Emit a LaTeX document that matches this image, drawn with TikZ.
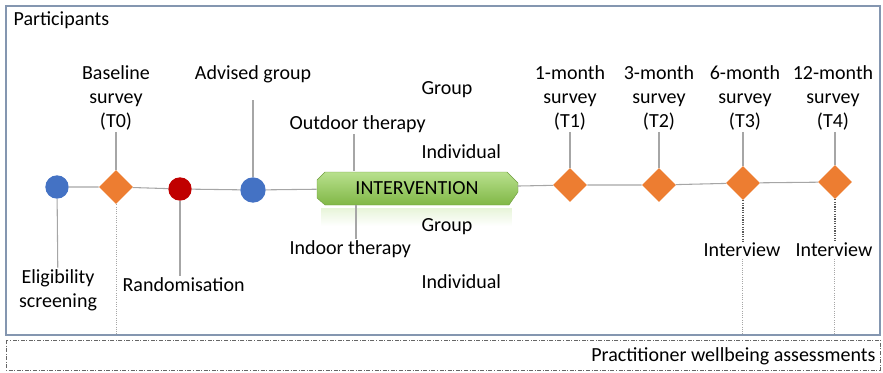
\documentclass[tikz,border=0pt]{standalone}
\usepackage{fontspec}
\setmainfont{Carlito}
\usetikzlibrary{shapes.geometric,fadings}

\definecolor{survorange}{HTML}{ED7D31}
\definecolor{dotblue}{HTML}{4472C4}
\definecolor{dotred}{HTML}{C00000}
\definecolor{linegray}{HTML}{A6A6A6}
\definecolor{framegray}{HTML}{8496B0}
\definecolor{intgreen}{HTML}{92D050}

\tikzset{
  survey/.style={diamond, fill=survorange, inner sep=0pt, minimum size=25.5pt},
  event/.style={circle, inner sep=0pt, minimum size=17.5pt},
  stem/.style={draw=linegray, line width=0.8pt},
  trace/.style={draw=linegray, densely dotted, line width=0.7pt},
  lbl/.style={align=center, inner sep=1pt}
}

\begin{document}
\begin{tikzpicture}[x=0.75pt, y=-0.75pt, font=\fontsize{15}{18}\selectfont]

\useasboundingbox (0,0) rectangle (883,372);

% frames
\draw[framegray, line width=1.1pt] (6,6) rectangle (880,335);
\coordinate (fb) at (0,335);
\draw[gray!80!black, line width=0.6pt, dash pattern=on 3pt off 1.2pt on 0.7pt off 1.2pt]
  (6,340) rectangle (880,370);

\node[anchor=west, lbl] (part) at (12,20) {Participants};
\node[anchor=east, lbl] (prac) at (877,356) {Practitioner wellbeing assessments};

% -------- intervention bar -----------
\shade[top color=intgreen!65!white, middle color=intgreen!85!lime, bottom color=intgreen!88!black,
       draw=intgreen!75!black, line width=0.3pt]
  (317,180) -- (325,172) -- (507,172) -- (518,183) -- (518,192) -- (509,205)
  -- (325,205) -- (317,198) -- cycle;
\fill[intgreen, opacity=0.22, path fading=south] (321,208) rectangle (512,226);
\node[inner sep=0pt, minimum width=150pt, minimum height=24.5pt] (interv) at (417,188) {INTERVENTION};

% -------- markers on the timeline -----------
\node[event, fill=dotblue] (elig) at (57,187) {};
\node[survey] (base) at (116,187) {};
\node[event, fill=dotred] (rand) at (180,189) {};
\node[event, fill=dotblue, minimum height=19pt] (adv) at (253,190) {};
\node[survey] (t1) at (570,185) {};
\node[survey] (t2) at (659,185) {};
\node[survey] (t3) at (743,183) {};
\node[survey] (t4) at (835,182) {};

\draw[stem] (elig) -- (base) -- (rand) -- (adv) -- (interv) -- (t1) -- (t2) -- (t3) -- (t4);

% -------- labels -----------
\node[lbl] (basel) at (116,98) {Baseline\\survey\\(T0)};
\node[lbl] (eligl) at (58,290) {Eligibility\\screening};
\node[lbl, anchor=west] (randl) at (121,285) {Randomisation};
\node[lbl] (advl) at (253,74) {Advised group};
\node[lbl, anchor=west] (outl) at (288,124) {Outdoor therapy};
\node[lbl, anchor=west] (inl) at (288,249) {Indoor therapy};
\node[lbl, anchor=west] (og) at (420,90) {Group};
\node[lbl, anchor=west] (oi) at (420,152) {Individual};
\node[lbl, anchor=west] (ig) at (420,227) {Group};
\node[lbl, anchor=west] (ii) at (420,282) {Individual};
\node[lbl] (t1l) at (570,98) {1-month\\survey\\(T1)};
\node[lbl] (t2l) at (659,98) {3-month\\survey\\(T2)};
\node[lbl] (t3l) at (745,98) {6-month\\survey\\(T3)};
\node[lbl] (t4l) at (833,98) {12-month\\survey\\(T4)};
\node[lbl] (int3) at (742,250) {Interview};
\node[lbl] (int4) at (834,250) {Interview};

% -------- stems -----------
\draw[stem] (basel) -- (base);
\draw[stem] (elig) -- (eligl);
\draw[stem] (rand) -- (rand |- randl.north);
\draw[stem] (advl) ++(0,26) -- (adv);
\draw[stem] (outl.south -| 354,0) -- (interv.north -| 354,0);
\draw[stem] (interv.south -| 356,0) -- (inl.north -| 356,0);
\draw[stem] (t1l) -- (t1);
\draw[stem] (t2l) -- (t2);
\draw[stem] (t3l.south -| t3) -- (t3);
\draw[stem] (t4l.south -| t4) -- (t4);

% -------- dotted follow-ups -----------
\draw[trace] (base) -- (base |- fb);
\draw[gray!70!black, densely dotted, line width=0.8pt] (t3) -- (t3 |- int3.north);
\draw[gray!70!black, densely dotted, line width=0.8pt] (t4) -- (t4 |- int4.north);
\draw[trace] (int3) -- (int3 |- fb);
\draw[trace] (int4) -- (int4 |- fb);

\end{tikzpicture}
\end{document}
